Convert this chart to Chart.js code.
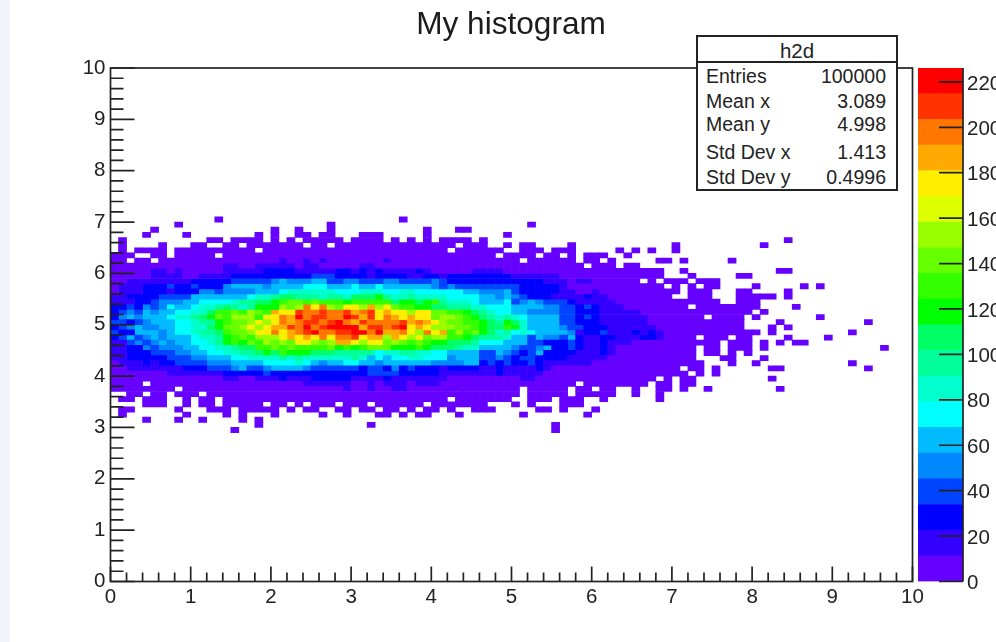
<!DOCTYPE html>
<html>
<head>
<meta charset="utf-8">
<title>My histogram</title>
<script src="https://cdn.jsdelivr.net/npm/chart.js@4"></script>
<style>
    html, body { margin: 0; padding: 0; width: 996px; height: 642px; overflow: hidden; background: #f1f3fb; }
    #panel { position: absolute; left: 10px; top: 0; width: 986px; height: 642px; background: #fff; }
    canvas { position: absolute; top: 0; }
    #title { position: absolute; left: 0; width: 1022px; top: 5px; text-align: center; font: 31.6px "Liberation Sans", sans-serif; color: #1c1c1c; }
    #stats { position: absolute; left: 696px; top: 35px; width: 198px; height: 152px; background: #fff; border: 2px solid #222; font: 19.5px "Liberation Sans", sans-serif; color: #222; }
    #stats .head { position: absolute; left: 0; right: 0; top: 0; height: 24px; border-bottom: 2px solid #222; text-align: center; font-size: 20.5px; line-height: 27px; }
    #stats .row { position: absolute; left: 8px; right: 10px; height: 22px; line-height: 22px; display: flex; justify-content: space-between; }
</style>
</head>
<body>
<div id="panel"></div>
<canvas id="hist" width="996" height="642" style="left:0"></canvas>
<canvas id="zbar" width="78" height="642" style="left:918px"></canvas>
<div id="title">My histogram</div>
<div id="stats"><div class="head">h2d</div></div>
<script>
    // contour level of each bin. one string per y bin, top row first,
    // 10 x bins per block, '.' means empty
    const topRow = 70;
    const levelRows = [
        ".......... ...0...... .......... ......0...",
        "........0. .......... .......0.. .......... .......... ..0.......",
        ".....0.... .......... 0..0...0.. .........0 ...00.....",
        "....0....0 ........0. 0..00.00.. .000.....0 .........0",
        ".0........ ..00.0000. 0.0.00000. 0000.0.0.0 .0000.0... .......... .......... .......... ....0.....",
        ".0....0... 00..00.000 0000.00.00 0000000000 000.000..0 .00....0.. .......... 0......... .0........",
        ".0.0000.00 00000000.0 0000000000 0000000000 00.000000. .000.000.. ...0.0.0.. 0.........",
        "000..00.00 000.000000 0000000000 0000000000 00000000.0 000.00.0.0 00..0.....",
        "00.00.0000 0000000000 0100101000 0000100000 0000000000 0.000000.0 0.0.....00 .0.....0..",
        "0000000000 0000110011 1110110000 0110000000 0000000000 000000000. 000.00....",
        "0000011010 0000111112 2221111122 1212111121 0000011110 0000000000 000000000. .0........ ...00.....",
        "0000011110 0111122222 2222233322 2212222112 2122222222 1111110000 000000000. ..0.....00",
        "0011111111 2222233333 4544455334 4333443333 4322222222 2222111011 000000.0.0 00.000....",
        "0111222322 3222455554 6656777656 7567665555 4343333333 3222221000 000000000. 0.0.00.... 0.....0.0.",
        "0111222122 2443444455 6788888877 7888778877 7777654445 3222221100 1000000000 0.000...00 ....0.....",
        "1122223333 5555566788 9aa9998998 aaab988988 8877776545 4322211112 1100000000 ..000...00 000.0.....",
        "1112234445 67777899aa bcddcdcccb cccccabbab c988876657 3454333211 1110000000 000000..00 0.........",
        "2232434766 7889a989bb bedehfhedf fegefdccbb aa99988777 6565443323 2111000000 00.0000000 0....0....",
        "2343545577 88accdcedc gffihhihhi ghifgffeff ddccba9877 6644443322 2111110000 0000000000 .0........",
        "2454556788 9abdceeecf fhgjhiihhj igifhgfgff deedcba989 8755553323 2111111000 0000.0000. 0.......0.",
        "3323455577 899bcddefe fhghiihijh gihhhhighg feddccba9b a855553322 2111111000 000000000. ...0...... ....0.....",
        "2345445677 88abddefef ggihjhijjj jgiihijfgf eeeddcbaac b865554332 2211111100 000000000. ..0.0.....",
        "3225554577 899acddeff hfghijhhii jjhjgghfeh fgcecdba89 7876555412 2311121210 0000000000 0.0....... ..0.......",
        "2353454566 7889bcdcee efgfgfhfhh ifggegfefd eeccba9998 6535443521 1221112210 000.000.00 ....0....0",
        "1134345455 7789bcbdce dedffedegg feffdedcdc bbaaa97776 5533222321 1211100000 000000.000 .0.0.00...",
        "1122434445 577889aacc dcdccccdbc bcdddbbbcb aaa9886666 4334522321 1210000000 000.00.000 .0........ ......0...",
        "1122233344 55778899ab acbbbaaa99 9997889988 7766553354 3235222211 1210000000 000.00.0.0",
        "1122222333 4455677888 8989888888 9867677887 7745563343 2332222111 1100000000 000...00.. .0........",
        "0111212233 3344455667 7778754557 7554556555 4444552323 2232111111 0000000000 0000...0.. 0......... ..0.......",
        "0011111112 2233345334 5555433333 3233242322 2122221121 1112100000 0000000000 0.00.0.... ..00...... ....0.....",
        "0000000111 1111222223 2222222222 2233332222 2111111121 1111000000 0000000000 00.0.0....",
        "0000000000 0000110011 1211122222 1111211111 1100000000 0110000000 00000000.0 .00....... ..0.......",
        "0000.00000 0000000000 0000111111 0010111011 1000000000 00000000.0 0000000.00 .00.......",
        "00000000.0 0000000000 0000000001 0010011000 0000000000 0.00000.00 .00..0..00 .0..0..... ...0......",
        "..00.00.00 0.00000000 0000000000 0000000000 0000000000 0.00000.00 000..0..0.",
        ".00.000..0 .00.000000 0000000000 0000000000 00.0000000 ..000.000. .0......0.",
        "....000..0 .00.00000. 00.0.000.0 00.000000. 0000000... 0.0...000.",
        ".00.....0. ..000.0000 0.0.00..00 .00.00.0.0 0.0..000.. ...00.0... 0.........",
        ".0.......0 ....0.0... 0.....0..0 ...00.0.00 ...0...... .0.......0",
        "....0...0. .0....0.0.",
        ".......... ........0. .......... ..0....... .......... .....0....",
        ".......... .....0.... .......... .......... .......... .....0...."
    ];
    const levelChars = "0123456789abcdefghij";
    const levelToBand = [0, 1, 2, 3, 4, 5, 5, 6, 7, 8, 9, 10, 11, 12, 13, 15, 16, 17, 18, 19];
    const bandColors = ["#6600ff", "#3300ff", "#0000ff", "#0044ff", "#0088ff", "#00bbff", "#00ffff", "#00ffcc", "#00ff99", "#00ff66",
        "#00ff00", "#33ff00", "#66ff00", "#99ff00", "#ddff00", "#ffee00", "#ffaa00", "#ff7700", "#ff3300", "#ff0000"];

    const zMax = 226.1;
    const xMajor = [0, 1, 2, 3, 4, 5, 6, 7, 8, 9, 10];
    const zMajor = [0, 20, 40, 60, 80, 100, 120, 140, 160, 180, 200, 220];
    const statRows = [["Entries", "100000", 28], ["Mean x", "3.089", 53], ["Mean y", "4.998", 76], ["Std Dev x", "1.413", 104], ["Std Dev y", "0.4996", 129]];

    const inkColor = "#222";
    Chart.defaults.font.family = '"Liberation Sans", sans-serif';
    Chart.defaults.font.size = 20.5;
    Chart.defaults.color = inkColor;
    Chart.defaults.animation = false;

    // one dataset per colour band, each bin is a floating bar
    function buildDatasets() {
        const cells = bandColors.map(() => []);
        levelRows.forEach((row, i) => {
            const chars = row.replace(/ /g, "");
            const yLow = topRow - i;
            for (let c = 0; c < chars.length; c++) {
                if (chars[c] === ".") continue;
                const band = levelToBand[levelChars.indexOf(chars[c])];
                cells[band].push({ x: (c + 0.5) / 10, y: [yLow / 10, (yLow + 1) / 10] });
            }
        });
        return bandColors.map((color, b) => ({ data: cells[b], backgroundColor: color }));
    }

    // ticks point into the plot, so they are stroked here
    const rootAxes = {
        id: "rootAxes",
        afterDatasetsDraw(chart) {
            const { ctx, chartArea: a, scales } = chart;
            ctx.save();
            ctx.strokeStyle = inkColor;
            ctx.lineWidth = 1.7;
            ctx.strokeRect(a.left, a.top, a.right - a.left, a.bottom - a.top);
            ctx.beginPath();
            for (let i = 0; i <= 50; i++) {
                const v = i / 5;
                const major = i % 5 === 0;
                const px = scales.x.getPixelForValue(v);
                ctx.moveTo(px, a.bottom);
                ctx.lineTo(px, a.bottom - (major ? 15 : 9));
                const py = scales.y.getPixelForValue(v);
                ctx.moveTo(a.left, py);
                ctx.lineTo(a.left + (major ? 24 : 13), py);
            }
            ctx.stroke();
            ctx.restore();
        }
    };

    const zAxis = {
        id: "zAxis",
        afterDatasetsDraw(chart) {
            const { ctx, chartArea: a, scales } = chart;
            ctx.save();
            ctx.strokeStyle = inkColor;
            ctx.fillStyle = inkColor;
            ctx.lineWidth = 1.7;
            ctx.font = '20.5px "Liberation Sans", sans-serif';
            ctx.textBaseline = "middle";
            ctx.beginPath();
            ctx.moveTo(a.right, a.top);
            ctx.lineTo(a.right, a.bottom);
            zMajor.forEach(v => {
                const py = scales.y.getPixelForValue(v);
                ctx.moveTo(a.right, py);
                ctx.lineTo(a.right - 24, py);
                ctx.fillText(String(v), a.right + 4, py + 2);
            });
            ctx.stroke();
            ctx.restore();
        }
    };

    new Chart(document.getElementById("hist"), {
        type: "bar",
        data: { datasets: buildDatasets() },
        plugins: [rootAxes],
        options: {
            responsive: false,
            grouped: false,
            barPercentage: 1,
            categoryPercentage: 1,
            layout: { autoPadding: false, padding: { left: 0, top: 68, right: 83.5, bottom: 0 } },
            plugins: { legend: { display: false }, tooltip: { enabled: false } },
            scales: {
                x: {
                    type: "linear", min: 0, max: 10, offset: false,
                    afterBuildTicks: s => { s.ticks = xMajor.map(v => ({ value: v })); },
                    afterFit: s => { s.height = 60.5; },
                    grid: { display: false, drawTicks: false },
                    border: { display: false },
                    ticks: { padding: 4, maxRotation: 0, autoSkip: false }
                },
                y: {
                    min: 0, max: 10,
                    afterFit: s => { s.width = 110.5; },
                    grid: { display: false, drawTicks: false },
                    border: { display: false },
                    ticks: { stepSize: 1, padding: 5, autoSkip: false }
                }
            }
        }
    });

    const zBand = zMax / bandColors.length;
    new Chart(document.getElementById("zbar"), {
        type: "bar",
        data: {
            labels: ["z"],
            datasets: bandColors.map((color, b) => ({ data: [[b * zBand, (b + 1) * zBand]], backgroundColor: color }))
        },
        plugins: [zAxis],
        options: {
            responsive: false,
            grouped: false,
            barPercentage: 1,
            categoryPercentage: 1,
            layout: { autoPadding: false, padding: { left: 0, top: 68, right: 0, bottom: 60.5 } },
            plugins: { legend: { display: false }, tooltip: { enabled: false } },
            scales: {
                x: { display: false },
                y: {
                    position: "right", min: 0, max: zMax,
                    afterFit: s => { s.width = 33; },
                    grid: { display: false, drawTicks: false },
                    border: { display: false },
                    ticks: { display: false, stepSize: 20, includeBounds: false }
                }
            }
        }
    });

    const stats = document.getElementById("stats");
    statRows.forEach(([name, value, top]) => {
        const row = document.createElement("div");
        row.className = "row";
        row.style.top = top + "px";
        row.innerHTML = "<span>" + name + "</span><span>" + value + "</span>";
        stats.appendChild(row);
    });
</script>
</body>
</html>
